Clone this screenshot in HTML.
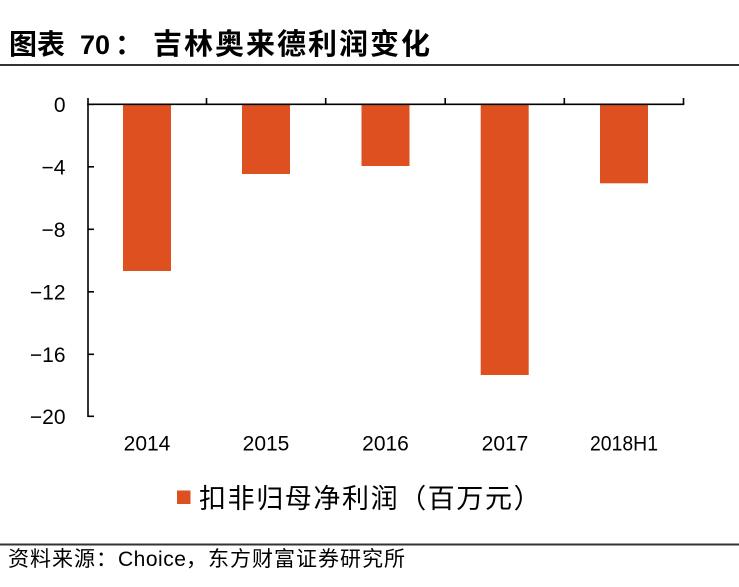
<!DOCTYPE html>
<html>
<head>
<meta charset="utf-8">
<style>
  html,body{margin:0;padding:0;background:#fff;}
  body{width:739px;height:587px;overflow:hidden;position:relative;}
  svg{position:absolute;left:0;top:0;}
</style>
</head>
<body>
<svg width="739" height="587" viewBox="0 0 739 587" xmlns="http://www.w3.org/2000/svg">
  <!-- Title -->
  <g font-family="'Noto Sans CJK SC', 'WenQuanYi Zen Hei', sans-serif" font-weight="bold" fill="#000">
    <text x="9" y="54" font-size="28">图表</text>
    <text x="80" y="54" font-size="27" font-family="'Liberation Sans', sans-serif" font-weight="bold">70</text>
    <text x="115" y="54" font-size="28">：</text>
    <text x="153" y="54" font-size="29" letter-spacing="2">吉林奥来德利润变化</text>
  </g>
  <rect x="0" y="64" width="739" height="2" fill="#333"/>

  <!-- Bars -->
  <g fill="#DE5020">
    <rect x="123" y="105" width="48" height="166"/>
    <rect x="242" y="105" width="48" height="69"/>
    <rect x="361.5" y="105" width="48" height="61"/>
    <rect x="480.7" y="105" width="48" height="270"/>
    <rect x="600" y="105" width="48" height="78.3"/>
  </g>

  <!-- Axes -->
  <g stroke="#000" stroke-width="1.6" fill="none">
    <line x1="88" y1="103.5" x2="88" y2="417"/>
    <line x1="87.2" y1="104.3" x2="684.3" y2="104.3"/>
    <line x1="88" y1="104.3" x2="94" y2="104.3"/>
    <line x1="88" y1="166.8" x2="94" y2="166.8"/>
    <line x1="88" y1="229.3" x2="94" y2="229.3"/>
    <line x1="88" y1="291.8" x2="94" y2="291.8"/>
    <line x1="88" y1="354.3" x2="94" y2="354.3"/>
    <line x1="88" y1="416.3" x2="94" y2="416.3"/>
    <line x1="88" y1="98" x2="88" y2="104.3"/>
    <line x1="206.5" y1="98" x2="206.5" y2="104.3"/>
    <line x1="325.7" y1="98" x2="325.7" y2="104.3"/>
    <line x1="445.2" y1="98" x2="445.2" y2="104.3"/>
    <line x1="564.3" y1="98" x2="564.3" y2="104.3"/>
    <line x1="683.5" y1="98" x2="683.5" y2="104.3"/>
  </g>

  <!-- Y labels -->
  <g font-family="'Liberation Sans', sans-serif" font-size="21" fill="#000" text-anchor="end">
    <text x="65.5" y="111.8">0</text>
    <text x="65.5" y="174.3">−4</text>
    <text x="65.5" y="236.8">−8</text>
    <text x="65.5" y="299.3">−12</text>
    <text x="65.5" y="361.8">−16</text>
    <text x="65.5" y="423.8">−20</text>
  </g>

  <!-- X labels -->
  <g font-family="'Liberation Sans', sans-serif" font-size="21" fill="#000" text-anchor="middle">
    <text x="147" y="450.7">2014</text>
    <text x="266" y="450.7">2015</text>
    <text x="385.5" y="450.7">2016</text>
    <text x="505" y="450.7">2017</text>
    <text x="624" y="450.7" textLength="68" lengthAdjust="spacingAndGlyphs">2018H1</text>
  </g>

  <!-- Legend -->
  <rect x="177" y="490.5" width="13.5" height="13.5" fill="#DE5020"/>
  <text x="199" y="508" font-family="'Noto Sans CJK SC', 'WenQuanYi Zen Hei', sans-serif" font-size="27" letter-spacing="1.6" fill="#000">扣非归母净利润（百万元）</text>

  <!-- Footer -->
  <rect x="0" y="543.5" width="739" height="2" fill="#333"/>
  <text y="566" font-family="'Noto Sans CJK SC', 'WenQuanYi Zen Hei', sans-serif" font-size="21" fill="#000" letter-spacing="1">
    <tspan x="8">资料来源：</tspan><tspan x="118" font-family="'Liberation Sans', sans-serif" font-size="21" letter-spacing="0.5">Choice</tspan><tspan x="186">，东方财富证券研究所</tspan>
  </text>
</svg>
</body>
</html>
